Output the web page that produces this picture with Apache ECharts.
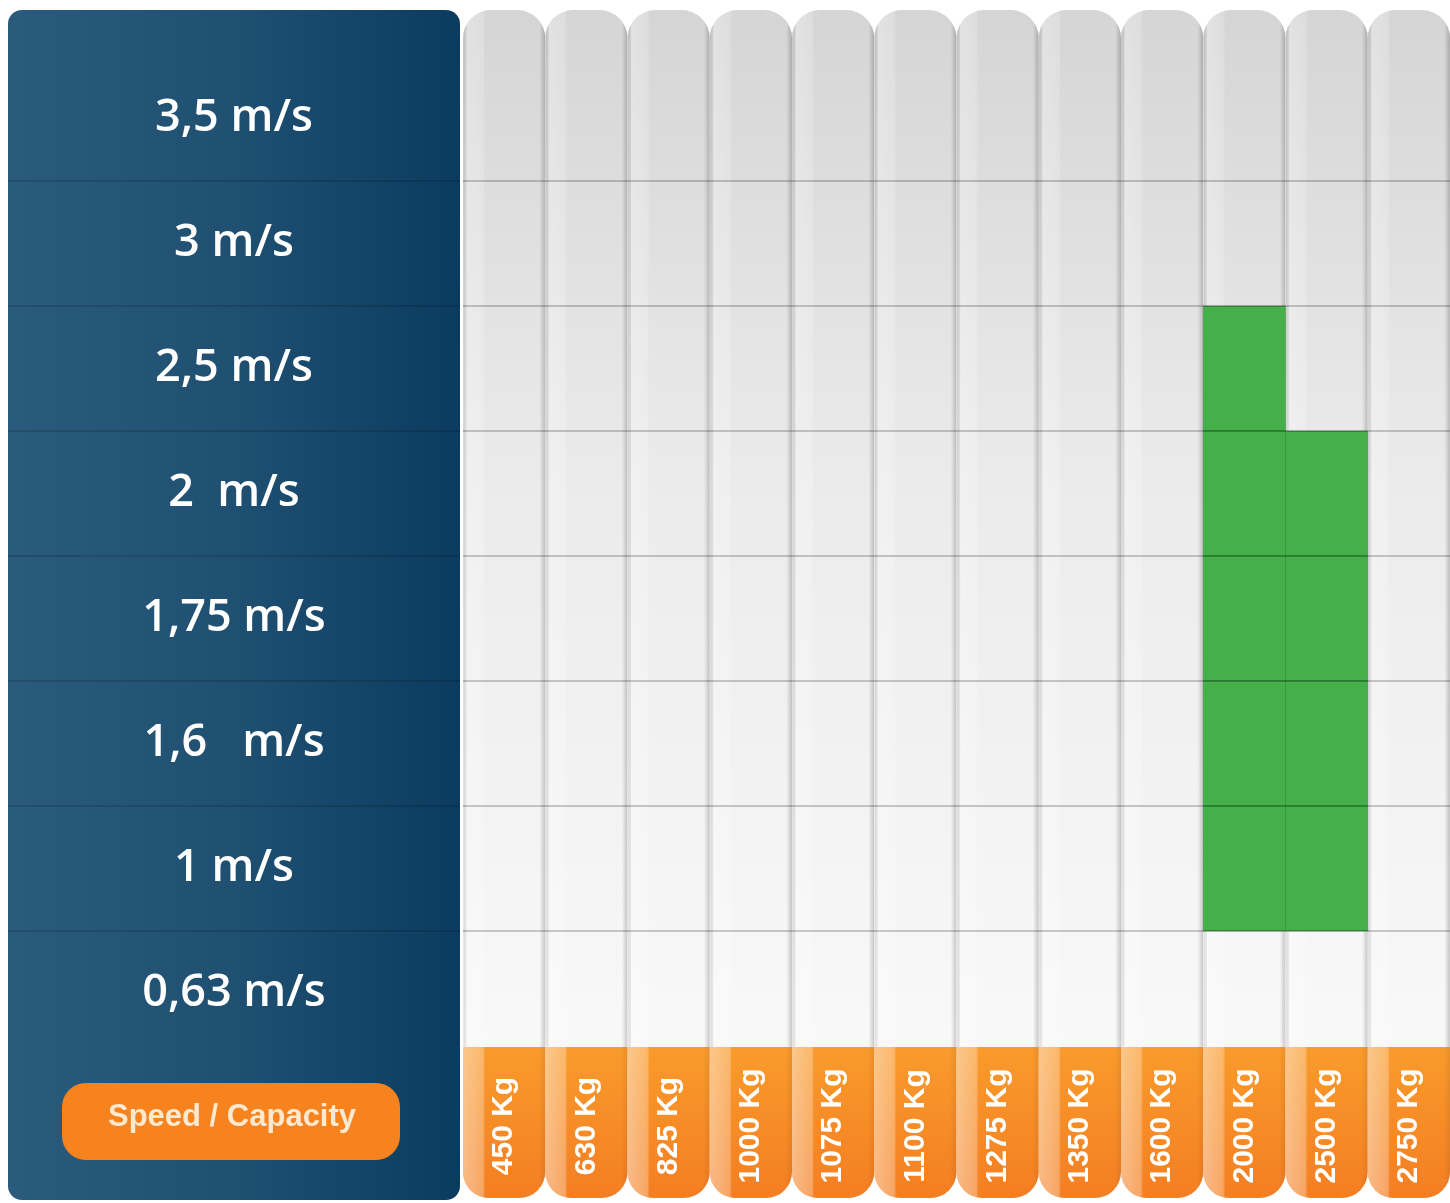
<!DOCTYPE html>
<html>
<head>
<meta charset="utf-8">
<title>Speed / Capacity</title>
<script src="https://cdn.jsdelivr.net/npm/echarts@6/dist/echarts.min.js"></script>
<style>
  html, body { margin: 0; padding: 0; background: #fff; }
  #chart { width: 1450px; height: 1203px; }
</style>
</head>
<body>
<div id="chart"></div>
<script>
// capacity columns, left to right
var capacities = ['450 Kg', '630 Kg', '825 Kg', '1000 Kg', '1075 Kg', '1100 Kg', '1275 Kg', '1350 Kg', '1600 Kg', '2000 Kg', '2500 Kg', '2750 Kg'];
// speed rows, top to bottom
var speeds = ['3,5 m/s', '3 m/s', '2,5 m/s', '2  m/s', '1,75 m/s', '1,6   m/s', '1 m/s', '0,63 m/s'];
// speeds available (green) for each capacity that has any
var available2000 = ['2,5 m/s', '2  m/s', '1,75 m/s', '1,6   m/s', '1 m/s'];
var available2500 = ['2  m/s', '1,75 m/s', '1,6   m/s', '1 m/s'];

var cells = available2000.map(function (s) { return ['2000 Kg', s]; })
  .concat(available2500.map(function (s) { return ['2500 Kg', s]; }));

var lg = echarts.graphic.LinearGradient;
var pillTop = 10, footTop = 1047, pillBottom = 1198;

// grey body of every capacity column
function renderColumn(params, api) {
  var idx = api.value(0);
  var c = api.coord([idx, 0]);
  var w = api.size([1, 1])[0];
  var body = { x: c[0] - w / 2, y: pillTop, width: w, height: footTop - pillTop + 10, r: [28, 28, 0, 0] };
  return {
    type: 'group',
    children: [
      { type: 'rect', shape: body, style: { fill: new lg(0, 0, 0, 1, [
        { offset: 0, color: '#d5d5d5' }, { offset: 0.45, color: '#ebebeb' }, { offset: 1, color: '#f9f9f9' }]) } },
      { type: 'rect', shape: body, style: { fill: new lg(0, 0, 1, 0, [
        { offset: 0, color: 'rgba(0,0,0,0.05)' }, { offset: 0.05, color: 'rgba(255,255,255,0.3)' },
        { offset: 0.24, color: 'rgba(255,255,255,0.2)' }, { offset: 0.27, color: 'rgba(255,255,255,0)' },
        { offset: 0.93, color: 'rgba(0,0,0,0)' }, { offset: 1, color: 'rgba(0,0,0,0.2)' }]) } }
    ]
  };
}

// orange foot holding the capacity label
function renderFoot(params, api) {
  var idx = api.value(0);
  var c = api.coord([idx, 0]);
  var w = api.size([1, 1])[0];
  var foot = { x: c[0] - w / 2, y: footTop, width: w, height: pillBottom - footTop, r: [0, 0, 26, 26] };
  return {
    type: 'group',
    children: [
      { type: 'rect', shape: foot, style: { fill: new lg(0, 0, 0, 1, [
        { offset: 0, color: '#f99b2c' }, { offset: 1, color: '#f47e22' }]) } },
      { type: 'rect', shape: foot, style: { fill: new lg(0, 0, 1, 0, [
        { offset: 0, color: 'rgba(255,255,255,0.45)' }, { offset: 0.24, color: 'rgba(255,255,255,0.3)' },
        { offset: 0.27, color: 'rgba(255,255,255,0)' }, { offset: 0.92, color: 'rgba(0,0,0,0)' },
        { offset: 1, color: 'rgba(0,0,0,0.07)' }]) } }
    ]
  };
}

function renderCell(params, api) {
  var c = api.coord([api.value(0), api.value(1)]);
  var size = api.size([1, 1]);
  return {
    type: 'rect',
    shape: { x: c[0] - size[0] / 2, y: c[1] - size[1] / 2, width: size[0], height: size[1] },
    style: { fill: '#45b04a', stroke: 'rgba(20,110,30,0.35)', lineWidth: 1 }
  };
}

var columnData = capacities.map(function (c) { return [c, speeds[0]]; });

var chart = echarts.init(document.getElementById('chart'));
chart.setOption({
  backgroundColor: '#fff',
  animation: false,
  graphic: [
    { type: 'rect', z: 0, shape: { x: 8, y: 10, width: 452, height: 1190, r: 14 },
      style: { fill: new lg(0, 0, 1, 0, [
        { offset: 0, color: '#2a5b7c' }, { offset: 0.5, color: '#1f4f71' }, { offset: 1, color: '#0b3b5f' }]) } },
    { type: 'rect', z: 10, shape: { x: 62, y: 1083, width: 338, height: 77, r: 24 },
      style: { fill: '#f7831f' } },
    { type: 'text', z: 11, x: 232, y: 1117,
      style: { text: 'Speed / Capacity', fill: '#fde8d0', font: 'bold 31px "Liberation Sans", Arial, sans-serif',
        align: 'center', verticalAlign: 'middle' } }
  ],
  grid: [
    { left: 463, top: 56, width: 997, height: 1000 },
    { left: 8, top: 56, width: 452, height: 875 }
  ],
  xAxis: [
    { type: 'category', gridIndex: 0, data: capacities, position: 'bottom', z: 10,
      axisLine: { show: false }, axisTick: { show: false }, splitLine: { show: false },
      axisLabel: { rotate: 90, margin: 70, align: 'center', verticalAlign: 'middle', interval: 0,
        color: '#fff', fontFamily: '"Liberation Sans", Arial, sans-serif', fontWeight: 'bold', fontSize: 30 } },
    { type: 'value', gridIndex: 1, show: false }
  ],
  yAxis: [
    { type: 'category', gridIndex: 0, data: speeds, inverse: true, z: 3,
      axisLine: { show: false }, axisTick: { show: false },
      axisLabel: { margin: 229, align: 'center', interval: 0, color: '#fff', padding: [5, 0, 0, 0],
        fontFamily: '"Open Sans", sans-serif', fontWeight: 600, fontSize: 45 },
      splitLine: { show: true, interval: function (i) { return i > 0; },
        lineStyle: { color: 'rgba(0,0,0,0.2)', width: 2 } } },
    { type: 'category', gridIndex: 1, data: speeds.slice(0, 7), inverse: true, z: 3,
      axisLine: { show: false }, axisTick: { show: false }, axisLabel: { show: false },
      splitLine: { show: true, interval: function (i) { return i > 0; },
        lineStyle: { color: 'rgba(0,0,0,0.13)', width: 2 } } }
  ],
  series: [
    { type: 'custom', name: 'columns', xAxisIndex: 0, yAxisIndex: 0, z: 1, silent: true,
      renderItem: renderColumn, data: columnData },
    { type: 'custom', name: 'available', xAxisIndex: 0, yAxisIndex: 0, z: 2,
      renderItem: renderCell, data: cells },
    { type: 'custom', name: 'feet', xAxisIndex: 0, yAxisIndex: 0, z: 4, silent: true,
      renderItem: renderFoot, data: columnData }
  ]
});
</script>
</body>
</html>
